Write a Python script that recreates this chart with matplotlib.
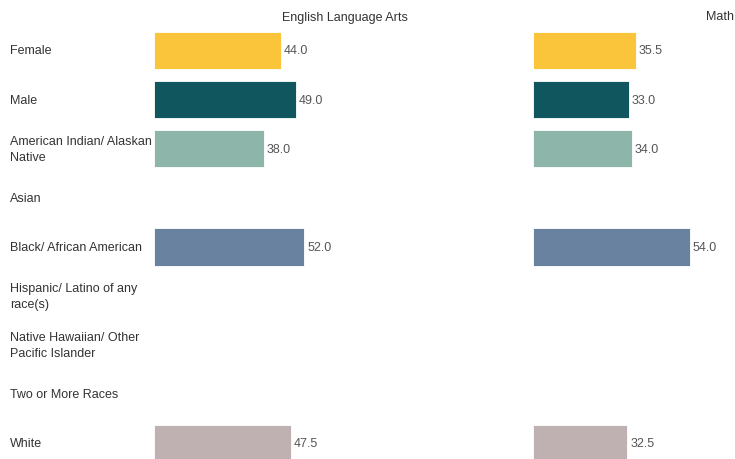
import numpy as np
import matplotlib.pyplot as plt

plt.rcParams['font.family'] = ['Liberation Sans', 'DejaVu Sans']

categories = ["Female", "Male", "American Indian/ Alaskan\nNative", "Asian",
              "Black/ African American", "Hispanic/ Latino of any\nrace(s)",
              "Native Hawaiian/ Other\nPacific Islander", "Two or More Races", "White"]
ela = [44.0, 49.0, 38.0, np.nan, 52.0, np.nan, np.nan, np.nan, 47.5]
math = [35.5, 33.0, 34.0, np.nan, 54.0, np.nan, np.nan, np.nan, 32.5]
colors = ["#FBC53B", "#10565F", "#8DB5AA", "#FFFFFF", "#68829F",
          "#FFFFFF", "#FFFFFF", "#FFFFFF", "#BFB0B2"]
titles = ["English Language Arts", "Math"]

W, H = 735, 460
fig = plt.figure(figsize=(W / 100, H / 100), dpi=100)

row0, step = 51.5, 49.1
ylim = ((H - row0) / step, -row0 / step)
px_per_unit = 2.9
span = 100

y = np.arange(len(categories))
panels = [(153.5, ela, titles[0], 345), (533, math, titles[1], 720)]
for left_px, vals, title, title_px in panels:
    ax = fig.add_axes([left_px / W, 0, span * px_per_unit / W, 1])
    for yi, v, c in zip(y, vals, colors):
        if np.isnan(v):
            continue
        ax.barh(yi, v, height=0.76, color=c, edgecolor="white", linewidth=0.6)
        ax.text(v + 1, yi, f"{v:.1f}", va="center", ha="left",
                fontsize=9, color="#555555")
    ax.set_xlim(0, span)
    ax.set_ylim(*ylim)
    ax.axis("off")
    fig.text(title_px / W, 1 - 17.5 / H, title, ha="center", va="center",
             fontsize=9, color="#333333")

for yi, cat in zip(y, categories):
    fig.text(10 / W, 1 - (row0 + step * yi) / H, cat, ha="left", va="center",
             fontsize=9, color="#333333", linespacing=1.45)

fig.savefig("out.png", dpi=100)
